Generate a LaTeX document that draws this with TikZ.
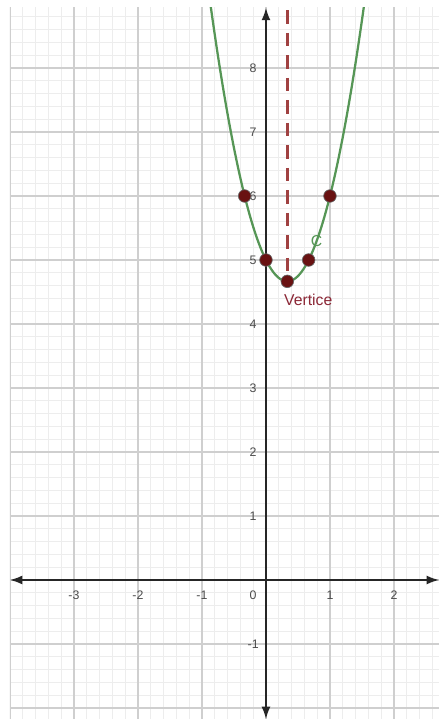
\documentclass[tikz,border=0pt]{standalone}
\usepackage{fontspec}
\setmainfont{Liberation Sans}
\usetikzlibrary{arrows.meta}
\definecolor{curvegreen}{RGB}{86,150,86}
\definecolor{ptred}{RGB}{105,18,18}
\definecolor{dashred}{RGB}{160,65,65}
\definecolor{vtxred}{RGB}{140,40,55}
\begin{document}
\begin{tikzpicture}[x=1cm,y=1cm,
  minorgrid/.style={draw=black!7, line width=0.4pt},
  majorgrid/.style={draw=black!19, line width=0.6pt},
  axis/.style={draw=black!85, line width=0.7pt, {Latex[length=5.5pt,width=4pt]}-{Latex[length=5.5pt,width=4pt]}},
  ticklab/.style={font=\fontsize{5.5}{6}\selectfont, text=black!70, inner sep=0.5pt},
  curve/.style={draw=curvegreen, line width=1pt},
  pt/.style={circle, fill=ptred, draw=black!60, line width=0.3pt, minimum size=5.6pt, inner sep=0pt},
  symline/.style={draw=dashred, line width=1.2pt, dash pattern=on 6pt off 4pt}]
\useasboundingbox (-4.156,-2.172) rectangle (2.703,9.0625);
\fill[white] (-4.156,-2.172) rectangle (2.703,9.0625);
\begin{scope}
  \clip (-4,-2.172) rectangle (2.703,8.94);
  \draw[minorgrid, step=0.2] (-4,-2.4) grid (2.8,9);
  \draw[majorgrid, step=1] (-4,-2.4) grid (2.8,9);
  \draw[curve, domain=-0.9:1.56, samples=120] plot (\x, {3*\x*\x-2*\x+5});
\end{scope}
% axes
\coordinate (xl) at (-4,0);
\coordinate (xr) at (2.703,0);
\coordinate (yt) at (0,8.94);
\coordinate (yb) at (0,-2.172);
\draw[axis] (xl) -- (xr);
\draw[axis] (yb) -- (yt);
% symmetry line
\coordinate (st) at (0.3333,8.9);
\coordinate (sv) at (0.3333,4.6667);
\draw[symline] (st) -- (sv);
% tick labels
\foreach \v/\t in {-3/-3,-2/-2,-1/-1,1/1,2/2}
  \node[ticklab] (xt\v) at (\v,-0.24) {\t};
\node[ticklab] (x0) at (-0.2,-0.24) {0};
\foreach \v/\t in {1/1,2/2,3/3,4/4,5/5,6/6,7/7,8/8,-1/-1}
  \node[ticklab] (yt\v) at (-0.2,\v) {\t};
% labels
\node[text=curvegreen, font=\fontsize{7}{8}\selectfont, inner sep=0pt] (clab) at (0.79,5.29) {C};
\node[text=vtxred, font=\fontsize{7}{8}\selectfont, inner sep=0pt] (vlab) at (0.66,4.37) {Vertice};
% points
\node[pt] (pa) at (-0.3333,6) {};
\node[pt] (pb) at (1,6) {};
\node[pt] (pc) at (0,5) {};
\node[pt] (pd) at (0.6667,5) {};
\node[pt] (pv) at (0.3333,4.6667) {};
\end{tikzpicture}
\end{document}
